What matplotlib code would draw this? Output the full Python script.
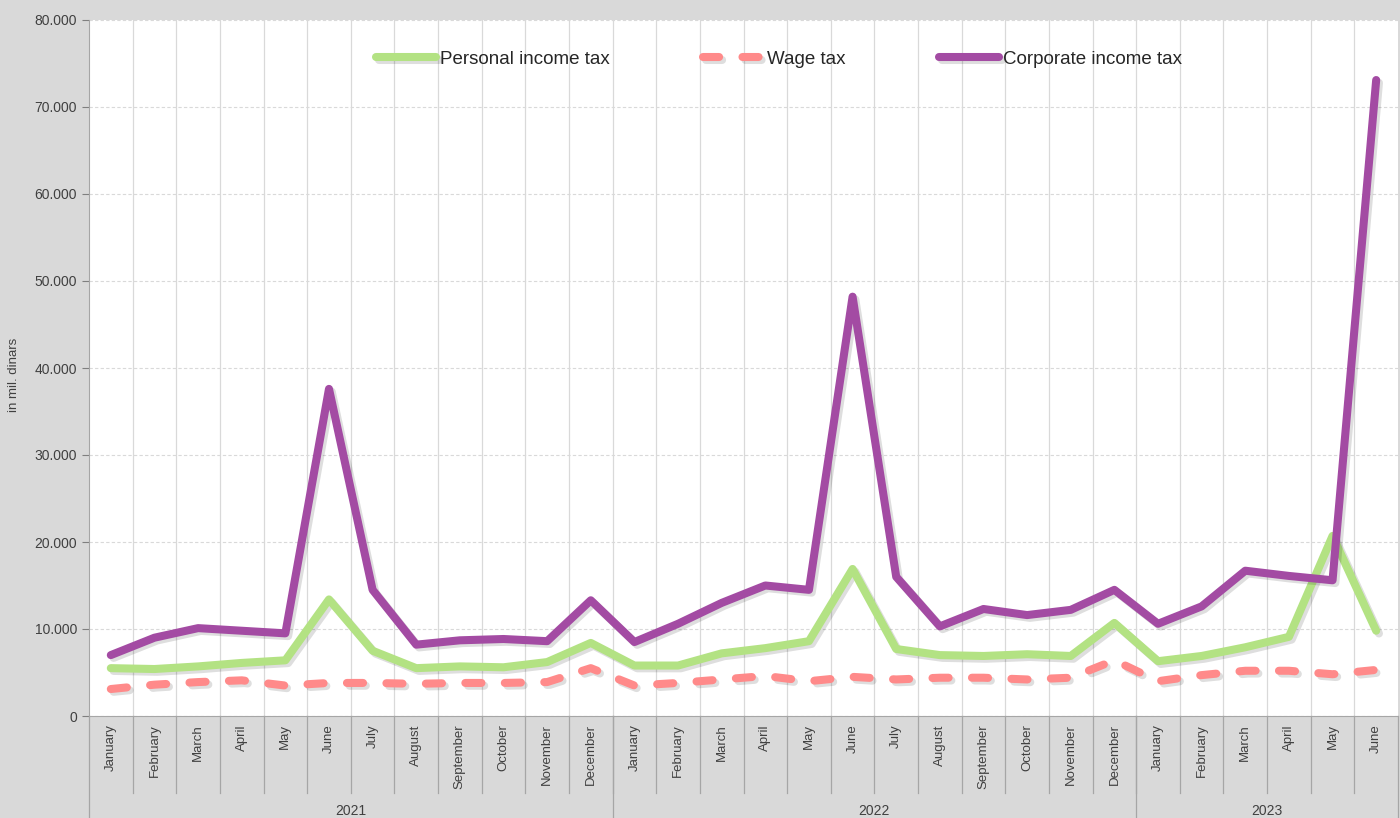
import matplotlib
matplotlib.use("Agg")
import matplotlib.pyplot as plt
import matplotlib.patheffects as pe
import matplotlib.transforms as mtransforms
from matplotlib.ticker import FuncFormatter
import numpy as np

plt.rcParams['font.family'] = ['Liberation Sans', 'DejaVu Sans']

months = ["January", "February", "March", "April", "May", "June", "July", "August",
          "September", "October", "November", "December"]
labels = months + months + months[:6]
years = ["2021", "2022", "2023"]
year_len = [12, 12, 6]

# in thousands of mil. dinars
personal = [5.5, 5.4, 5.7, 6.1, 6.4, 13.4, 7.5, 5.5, 5.7, 5.6, 6.2, 8.4,
            5.8, 5.8, 7.2, 7.8, 8.6, 16.9, 7.7, 7.0, 6.9, 7.1, 6.9, 10.7,
            6.3, 6.9, 7.9, 9.1, 20.7, 9.8]
wage = [3.1, 3.6, 3.9, 4.1, 3.5, 3.8, 3.8, 3.7, 3.8, 3.8, 3.9, 5.5,
        3.5, 3.8, 4.2, 4.6, 4.0, 4.5, 4.2, 4.4, 4.4, 4.2, 4.4, 6.4,
        4.0, 4.7, 5.2, 5.2, 4.8, 5.3]
corporate = [7.0, 9.0, 10.1, 9.8, 9.5, 37.6, 14.5, 8.2, 8.7, 8.85, 8.6, 13.3,
             8.5, 10.6, 13.0, 15.0, 14.5, 48.2, 16.0, 10.3, 12.3, 11.6, 12.2, 14.5,
             10.6, 12.6, 16.7, 16.1, 15.6, 73.1]

x = np.arange(len(labels))
personal = np.array(personal) * 1000
wage = np.array(wage) * 1000
corporate = np.array(corporate) * 1000

fig = plt.figure(figsize=(14, 8.18), dpi=100)
fig.patch.set_facecolor('#d9d9d9')
ax = fig.add_axes([89/1400, 1-716/818, 1309/1400, 696/818])
ax.set_facecolor('white')

shadow = [pe.SimpleLineShadow(offset=(2, -2), shadow_color='black', alpha=0.13), pe.Normal()]
lw = 5.8

ax.plot(x, personal, color='#b3e283', lw=lw, solid_capstyle='round', solid_joinstyle='round',
        path_effects=shadow, label='Personal income tax', zorder=3)
ax.plot(x, wage, color='#ff8a8a', lw=lw, dashes=(2.0, 2.9), dash_capstyle='round',
        dash_joinstyle='round', path_effects=shadow, label='Wage tax', zorder=3)
ax.plot(x, corporate, color='#a34ba3', lw=lw, solid_capstyle='round', solid_joinstyle='round',
        path_effects=shadow, label='Corporate income tax', zorder=4)

ax.set_xlim(-0.5, len(labels) - 0.5)
ax.set_ylim(0, 80000)
ax.set_yticks(np.arange(0, 80001, 10000))
ax.yaxis.set_major_formatter(FuncFormatter(lambda v, p: f"{int(v):,}".replace(",", ".")))
ax.tick_params(axis='y', labelsize=10, colors='#7f7f7f', length=5, width=0.8, labelcolor='#404040')
ax.set_ylabel('in mil. dinars', fontsize=9.5, color='#404040')
ax.yaxis.set_label_coords(-0.053, 0.49)

ax.set_xticks(x)
ax.set_xticklabels(labels, rotation=90, fontsize=9.5, color='#404040')
ax.tick_params(axis='x', length=0, pad=6)

# grid
for b in np.arange(0.5, len(labels) - 0.5, 1):
    ax.axvline(b, color='#d9d9d9', lw=0.9, zorder=1)
ax.grid(axis='y', color='#d9d9d9', ls=(0, (3, 2)), lw=0.8, zorder=1)
ax.set_axisbelow(True)

for s in ['top', 'right']:
    ax.spines[s].set_visible(False)
ax.spines['left'].set_color('#a6a6a6')
ax.spines['bottom'].set_color('#a6a6a6')

# category separators and year labels below the axis
tr = mtransforms.blended_transform_factory(ax.transData, ax.transAxes)
for b in np.arange(0.5, len(labels) - 0.5, 1):
    ax.plot([b, b], [0, -0.111], transform=tr, color='#a6a6a6', lw=0.9, clip_on=False)
start = -0.5
for yr, n in zip(years, year_len):
    ax.plot([start, start], [0, -0.2], transform=tr, color='#a6a6a6', lw=0.9, clip_on=False)
    ax.text(start + n / 2, -0.137, yr, transform=tr, ha='center', va='center',
            fontsize=10, color='#404040')
    start += n
ax.plot([start, start], [0, -0.2], transform=tr, color='#a6a6a6', lw=0.9, clip_on=False)

leg = ax.legend(loc='center', bbox_to_anchor=(0.527, 0.944), ncol=3, frameon=False,
                fontsize=13.5, handlelength=3.2, handletextpad=0.2, columnspacing=5.0)
for t in leg.get_texts():
    t.set_color('#262626')

fig.savefig('out.png', dpi=100, facecolor=fig.get_facecolor())
